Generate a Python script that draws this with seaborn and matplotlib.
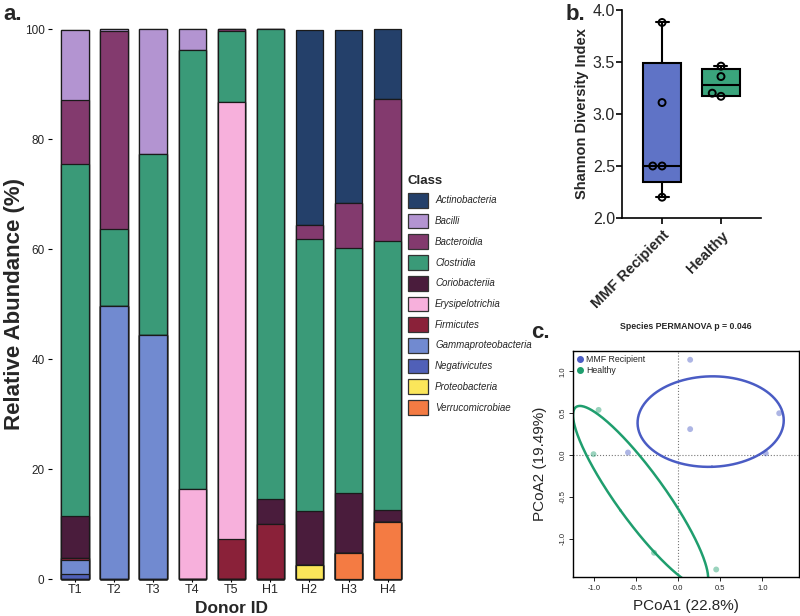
import numpy as np
import pandas as pd
import matplotlib
matplotlib.use("Agg")
import matplotlib.pyplot as plt
import seaborn as sns
from matplotlib.patches import Patch
from matplotlib.lines import Line2D

# ---- panel a: relative abundance (%) per donor ----
donors = ["T1", "T2", "T3", "T4", "T5", "H1", "H2", "H3", "H4"]
classes = ["Actinobacteria", "Bacilli", "Bacteroidia", "Clostridia", "Coriobacteriia",
           "Erysipelotrichia", "Firmicutes", "Gammaproteobacteria", "Negativicutes",
           "Proteobacteria", "Verrucomicrobiae"]
class_colors = ["#24406a", "#b394d1", "#833a6e", "#3a9a78", "#4a1c3c",
                "#f7b0dc", "#8a2139", "#718ad0", "#5060b8", "#fbe65a", "#f47b43"]

actinobacteria = [0, 0, 0, 0, 0, 0, 35.5, 31.6, 12.8]
bacilli = [12.8, 0.4, 22.8, 3.8, 0, 0, 0, 0, 0]
bacteroidia = [11.7, 35.9, 0, 0, 0.4, 0, 2.5, 8.1, 25.8]
clostridia = [63.9, 14.0, 32.9, 79.9, 12.8, 85.5, 49.6, 44.6, 48.9]
coriobacteriia = [7.6, 0, 0, 0, 0, 4.5, 9.7, 10.8, 2.1]
erysipelotrichia = [0, 0, 0, 16.3, 79.5, 0, 0, 0, 0]
firmicutes = [0.4, 0, 0, 0, 7.3, 10.0, 0, 0, 0]
gammaproteobacteria = [2.5, 49.7, 44.3, 0, 0, 0, 0, 0, 0]
negativicutes = [1.0, 0, 0, 0, 0, 0, 0, 0, 0]
proteobacteria = [0, 0, 0, 0, 0, 0, 2.6, 0, 0]
verrucomicrobiae = [0, 0, 0, 0, 0, 0, 0, 4.8, 10.4]

# ---- panel b: Shannon diversity ----
groups = ["MMF Recipient", "Healthy"]
shannon_mmf = [3.88, 3.11, 2.50, 2.50, 2.20]
shannon_healthy = [3.46, 3.36, 3.20, 3.17]
group_colors = ["#5f73c6", "#3aa47c"]

# ---- panel c: PCoA ----
pc1_mmf = [0.14, 1.20, 0.14, 1.04, -0.60]
pc2_mmf = [1.14, 0.50, 0.31, 0.02, 0.03]
pc1_healthy = [-0.95, -1.01, -0.29, 0.45]
pc2_healthy = [0.54, 0.01, -1.17, -1.37]
pcoa_colors = ["#4a5cc4", "#1f9e6e"]

sns.set_style("white")
plt.rcParams["font.family"] = ["Liberation Sans", "DejaVu Sans"]
plt.rcParams["axes.unicode_minus"] = False

fig = plt.figure(figsize=(8, 6.16), dpi=100)

# ---------------- a. stacked bars ----------------
ax_a = fig.add_axes([0.0644, 0.0600, 0.4494, 0.8929])
abund = pd.DataFrame([actinobacteria, bacilli, bacteroidia, clostridia, coriobacteriia,
                      erysipelotrichia, firmicutes, gammaproteobacteria, negativicutes,
                      proteobacteria, verrucomicrobiae], index=classes, columns=donors)
# stacking: last class at the bottom, so cumulative from the bottom up
cum = abund.iloc[::-1].cumsum().iloc[::-1]
for cls, col in zip(classes, class_colors):
    sns.barplot(x=donors, y=cum.loc[cls].values, color=col, saturation=1,
                width=0.7, edgecolor="#1a1a1a", linewidth=0.9, ax=ax_a)
for p in ax_a.patches:
    p.set_clip_on(False)
ax_a.set_xlim(-0.6, 8.6)
ax_a.set_ylim(0, 100)
ax_a.set_yticks([0, 20, 40, 60, 80, 100])
for s in ax_a.spines.values():
    s.set_visible(False)
ax_a.tick_params(axis="both", length=3, width=0.8, color="black", left=True, bottom=True)
ax_a.tick_params(axis="y", labelsize=8.5, pad=2)
ax_a.tick_params(axis="x", labelsize=9, pad=1, length=2.5)
ax_a.set_ylabel("Relative Abundance (%)", fontsize=16, fontweight="bold", labelpad=0)
fig.text(ax_a.get_position().x0 + ax_a.get_position().width / 2, 0.0, "Donor ID",
         fontsize=12.5, fontweight="bold", ha="center", va="bottom")

handles = [Patch(facecolor=c, edgecolor="#333333", linewidth=0.9, label=n)
           for n, c in zip(classes, class_colors)]
leg = fig.legend(handles=handles, loc="upper left", bbox_to_anchor=(403 / 800, 1 - 170 / 616),
                 frameon=False, title="Class", fontsize=7, borderpad=0,
                 handlelength=2.05, handleheight=1.95, labelspacing=0.62, handletextpad=0.75,
                 alignment="left")
leg.get_title().set_fontweight("bold")
leg.get_title().set_fontsize(9.5)
for t in leg.get_texts():
    t.set_fontstyle("italic")

# ---------------- b. Shannon boxplot ----------------
ax_b = fig.add_axes([0.7775, 0.6461, 0.1738, 0.3377])
stats = []
for vals in [shannon_mmf, shannon_healthy]:
    q1, med, q3 = np.percentile(vals, [25, 50, 75], method="weibull")
    stats.append(dict(med=med, q1=q1, q3=q3, whislo=min(vals), whishi=max(vals), fliers=[]))
bp = ax_b.bxp(stats, positions=[0, 1], widths=0.65, patch_artist=True, showfliers=False,
              boxprops=dict(linewidth=1.5, edgecolor="black"),
              medianprops=dict(color="black", linewidth=1.5),
              whiskerprops=dict(color="black", linewidth=1.5),
              capprops=dict(color="black", linewidth=1.5), capwidths=0.22)
for box, col in zip(bp["boxes"], group_colors):
    box.set_facecolor(col)
df_b = pd.DataFrame({"group": [groups[0]] * len(shannon_mmf) + [groups[1]] * len(shannon_healthy),
                     "shannon": shannon_mmf + shannon_healthy})
sns.swarmplot(data=df_b, x="group", y="shannon", order=groups, color="black", size=5,
              linewidth=1.4, edgecolor="black", ax=ax_b, zorder=4)
for c in ax_b.collections:
    c.set_facecolor("none")
    c.set_edgecolor("black")
ax_b.set_xlim(-0.68, 1.68)
ax_b.set_ylim(2.0, 4.0)
ax_b.set_yticks([2.0, 2.5, 3.0, 3.5, 4.0])
ax_b.set_yticklabels(["2.0", "2.5", "3.0", "3.5", "4.0"])
ax_b.set_xticks([0, 1])
ax_b.set_xticklabels(groups, rotation=45, ha="right", rotation_mode="anchor",
                     fontsize=10.5, fontweight="bold")
ax_b.spines["top"].set_visible(False)
ax_b.spines["right"].set_visible(False)
for s in ["left", "bottom"]:
    ax_b.spines[s].set_linewidth(1.2)
    ax_b.spines[s].set_color("black")
ax_b.tick_params(axis="both", length=4, width=1.2, color="black", left=True, bottom=True)
ax_b.tick_params(axis="y", labelsize=11.5, pad=1)
ax_b.set_xlabel("")
ax_b.set_ylabel("Shannon Diversity Index", fontsize=10.5, fontweight="bold", labelpad=3)

# ---------------- c. PCoA ----------------
ax_c = fig.add_axes([0.7163, 0.0633, 0.2825, 0.3669])
df_c = pd.DataFrame({"pc1": pc1_mmf + pc1_healthy, "pc2": pc2_mmf + pc2_healthy,
                     "group": [groups[0]] * len(pc1_mmf) + [groups[1]] * len(pc1_healthy)})
ax_c.axhline(0, color="#777777", linestyle=":", linewidth=0.8, zorder=1)
ax_c.axvline(0, color="#777777", linestyle=":", linewidth=0.8, zorder=1)
sns.scatterplot(data=df_c, x="pc1", y="pc2", hue="group", palette=pcoa_colors, s=18,
                alpha=0.45, linewidth=0, legend=False, ax=ax_c, zorder=3)
# 50% normal-theory ellipse around each group
t = np.linspace(0, 2 * np.pi, 300)
r = np.sqrt(-2 * np.log(1 - 0.5))
for (xs, ys), col in zip([(pc1_mmf, pc2_mmf), (pc1_healthy, pc2_healthy)], pcoa_colors):
    xy = np.column_stack([xs, ys])
    mu = xy.mean(axis=0)
    vals, vecs = np.linalg.eigh(np.cov(xy.T))
    circ = np.column_stack([np.cos(t), np.sin(t)]) * np.sqrt(vals) * r
    pts = circ @ vecs.T + mu
    ax_c.plot(pts[:, 0], pts[:, 1], color=col, linewidth=1.8, zorder=2)
ax_c.set_xlim(-1.254, 1.436)
ax_c.set_ylim(-1.46, 1.245)
ax_c.set_xticks([-1.0, -0.5, 0.0, 0.5, 1.0])
ax_c.set_yticks([-1.0, -0.5, 0.0, 0.5, 1.0])
ax_c.set_xticklabels(["-1.0", "-0.5", "0.0", "0.5", "1.0"])
ax_c.set_yticklabels(["-1.0", "-0.5", "0.0", "0.5", "1.0"], rotation=90, va="center")
for s in ax_c.spines.values():
    s.set_visible(True)
    s.set_color("black")
    s.set_linewidth(1.0)
ax_c.tick_params(axis="both", length=3, width=0.6, color="black", labelsize=5.5, pad=3,
                 left=True, bottom=True)
ax_c.tick_params(axis="y", pad=1.5)
ax_c.set_xlabel("PCoA1 (22.8%)", fontsize=11, labelpad=5)
ax_c.set_ylabel("PCoA2 (19.49%)", fontsize=11, labelpad=9)
ax_c.set_title("Species PERMANOVA p = 0.046", fontsize=6.3, fontweight="bold", pad=16)
leg_c = ax_c.legend(handles=[Line2D([], [], marker="o", linestyle="", color=c, markersize=4, label=g)
                             for g, c in zip(groups, pcoa_colors)],
                    loc="upper left", frameon=False, fontsize=6.3, handlelength=0.6,
                    handletextpad=0.4, labelspacing=0.15, borderaxespad=0.3, borderpad=0.2)

# panel letters
fig.text(3 / 800, 1 - 14 / 616, "a.", fontsize=16, fontweight="bold", va="center")
fig.text(566 / 800, 1 - 14 / 616, "b.", fontsize=16, fontweight="bold", va="center")
fig.text(531 / 800, 1 - 333 / 616, "c.", fontsize=16, fontweight="bold", va="center")

fig.savefig("out.png", dpi=100)
